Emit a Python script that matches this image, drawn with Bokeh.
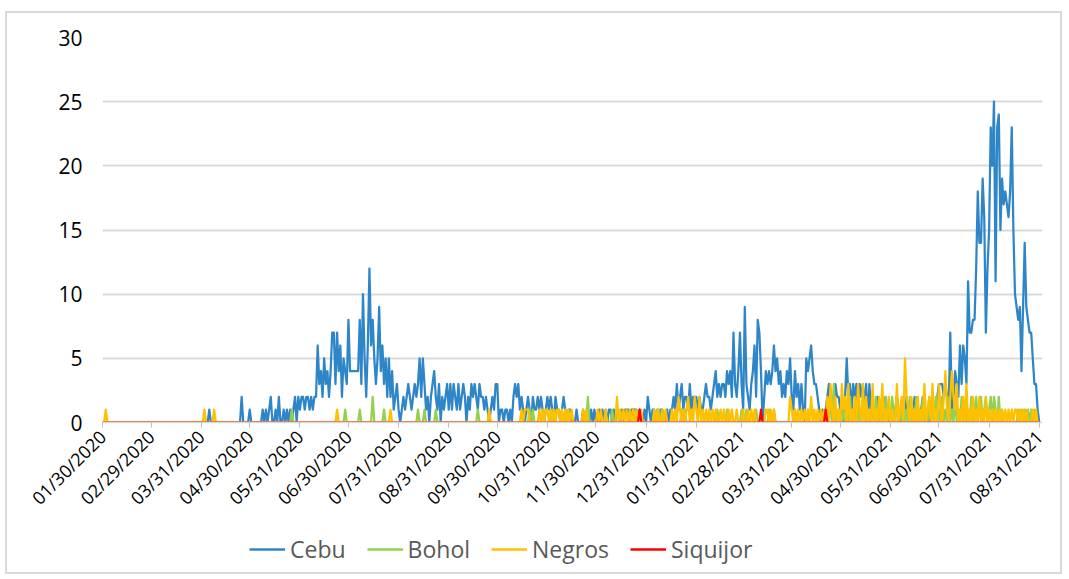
import math
import pandas as pd
from bokeh.plotting import figure
from bokeh.layouts import column
from bokeh.models import Range1d, FixedTicker, Legend, LegendItem, ColumnDataSource
from bokeh.embed import file_html
from bokeh.resources import INLINE

START = "2020-01-30"

# Daily values, one per day from 01/30/2020 (index 0) to 08/31/2021 (index 579)
cebu = [
    0, 0, 0, 0, 0, 0, 0, 0, 0, 0,   # 0
    0, 0, 0, 0, 0, 0, 0, 0, 0, 0,   # 10
    0, 0, 0, 0, 0, 0, 0, 0, 0, 0,   # 20
    0, 0, 0, 0, 0, 0, 0, 0, 0, 0,   # 30
    0, 0, 0, 0, 0, 0, 0, 0, 0, 0,   # 40
    0, 0, 0, 0, 0, 0, 0, 0, 0, 0,   # 50
    0, 0, 0, 0, 0, 0, 1, 0, 0, 0,   # 60
    0, 0, 0, 0, 0, 0, 0, 0, 0, 0,   # 70
    0, 0, 0, 0, 0, 0, 2, 0, 0, 0,   # 80
    0, 1, 0, 0, 0, 0, 0, 0, 0, 1,   # 90
    0, 1, 0, 1, 2, 0, 0, 1, 0, 2,   # 100
    0, 0, 1, 0, 1, 0, 1, 0, 1, 2,   # 110
    0, 2, 1, 2, 2, 1, 2, 2, 1, 2,   # 120
    1, 2, 2, 6, 3, 4, 2, 5, 3, 4,   # 130
    2, 4, 7, 7, 3, 7, 4, 6, 2, 5,   # 140
    4, 3, 8, 4, 4, 4, 4, 4, 4, 8,   # 150
    3, 10, 5, 2, 6, 12, 6, 8, 5, 3,  # 160
    5, 9, 4, 6, 3, 5, 2, 5, 2, 4,   # 170
    1, 2, 3, 1, 0, 1, 2, 1, 2, 3,   # 180
    2, 1, 2, 3, 2, 3, 5, 2, 5, 3,   # 190
    1, 2, 0, 2, 3, 4, 2, 1, 3, 0,   # 200
    2, 1, 2, 3, 1, 3, 1, 3, 2, 1,   # 210
    3, 1, 2, 3, 2, 0, 2, 1, 3, 2,   # 220
    3, 2, 1, 3, 2, 2, 1, 2, 1, 0,   # 230
    1, 2, 1, 3, 3, 0, 1, 1, 0, 1,   # 240
    1, 0, 1, 0, 2, 3, 2, 3, 1, 2,   # 250
    1, 0, 1, 2, 1, 0, 2, 1, 1, 2,   # 260
    1, 2, 1, 0, 1, 2, 1, 2, 1, 0,   # 270
    2, 1, 1, 0, 1, 2, 1, 0, 1, 1,   # 280
    0, 0, 0, 1, 0, 0, 0, 1, 0, 0,   # 290
    0, 0, 1, 0, 1, 0, 0, 1, 0, 1,   # 300
    0, 1, 0, 1, 1, 0, 1, 0, 1, 1,   # 310
    0, 1, 0, 1, 1, 1, 0, 1, 1, 1,   # 320
    1, 0, 1, 0, 0, 1, 0, 2, 1, 0,   # 330
    1, 1, 0, 1, 0, 1, 1, 0, 0, 1,   # 340
    0, 1, 1, 2, 1, 3, 1, 2, 3, 1,   # 350
    2, 2, 1, 3, 1, 2, 2, 2, 1, 2,   # 360
    1, 1, 2, 3, 2, 2, 1, 2, 3, 4,   # 370
    2, 3, 2, 3, 3, 2, 4, 3, 4, 2,   # 380
    7, 3, 2, 4, 7, 3, 1, 9, 3, 2,   # 390
    1, 3, 4, 6, 2, 8, 7, 4, 0, 2,   # 400
    4, 3, 4, 3, 4, 6, 4, 5, 3, 4,   # 410
    2, 3, 2, 4, 3, 5, 2, 1, 4, 2,   # 420
    3, 1, 3, 1, 0, 5, 4, 5, 6, 4,   # 430
    3, 3, 2, 1, 0, 1, 0, 1, 2, 3,   # 440
    1, 2, 1, 3, 2, 2, 1, 1, 0, 2,   # 450
    5, 2, 3, 1, 3, 2, 3, 1, 3, 2,   # 460
    3, 1, 3, 0, 3, 1, 1, 0, 1, 2,   # 470
    1, 0, 1, 1, 2, 1, 0, 1, 1, 0,   # 480
    1, 2, 1, 0, 1, 1, 0, 2, 1, 1,   # 490
    0, 1, 2, 1, 0, 1, 1, 2, 0, 1,   # 500
    1, 0, 1, 2, 1, 1, 2, 3, 3, 3,   # 510
    2, 3, 2, 1, 7, 1, 2, 4, 3, 2,   # 520
    6, 3, 6, 5, 3, 11, 7, 7, 8, 8,  # 530
    12, 18, 14, 14, 19, 16, 7, 12, 15, 23,  # 540
    20, 25, 11, 23, 24, 15, 19, 17, 18, 17,  # 550
    16, 18, 23, 15, 10, 9, 8, 9, 4, 9,  # 560
    14, 9, 8, 7, 7, 5, 3, 3, 1, 0,  # 570
]

# Non-zero days (day index: value); all other days are 0
bohol_nonzero = {
    117: 1, 150: 1, 159: 1, 167: 2, 174: 1, 195: 1, 199: 1, 206: 1, 232: 1,
    264: 1, 266: 1, 278: 1, 300: 2, 315: 1, 328: 1, 344: 1, 358: 1, 360: 1,
    380: 1, 386: 1, 395: 1, 398: 1, 404: 1, 412: 1, 415: 1, 428: 1, 436: 1,
    448: 1, 450: 2, 452: 3, 455: 1, 458: 1, 462: 2, 465: 1, 467: 1, 470: 2,
    473: 1, 476: 1, 478: 2, 480: 1, 482: 1, 484: 2, 486: 1, 488: 2, 489: 1,
    491: 2, 493: 1, 495: 2, 497: 1, 499: 2, 501: 1, 503: 2, 505: 1, 507: 2,
    509: 1, 511: 2, 513: 1, 515: 2, 517: 1, 519: 2, 521: 1, 523: 2, 525: 1,
    527: 2, 529: 1, 531: 2, 533: 1, 535: 1, 537: 2, 539: 1, 540: 2, 542: 1,
    543: 2, 545: 1, 546: 2, 548: 1, 549: 2, 551: 2, 552: 1, 554: 2, 556: 1,
    566: 1, 568: 1, 570: 1, 572: 1, 574: 1, 576: 1,
}

negros_nonzero = {
    2: 1, 63: 1, 69: 1, 145: 1, 178: 1, 239: 1, 259: 1, 261: 1, 262: 1,
    263: 1, 270: 1, 272: 1, 274: 1, 275: 1, 277: 1, 279: 1, 281: 1, 282: 1,
    284: 1, 286: 1, 288: 1, 290: 1, 297: 1, 299: 1, 306: 1, 308: 1, 311: 1,
    318: 2, 320: 1, 322: 1, 324: 1, 326: 1, 328: 1, 330: 1, 333: 1, 341: 1,
    343: 1, 346: 1, 348: 1, 352: 1, 354: 1, 356: 2, 357: 1, 359: 1, 361: 1,
    362: 2, 364: 1, 366: 2, 367: 1, 369: 2, 371: 1, 373: 1, 375: 1, 377: 1,
    379: 1, 382: 1, 384: 1, 387: 1, 389: 1, 392: 1, 396: 1, 399: 1, 401: 1,
    403: 1, 410: 1, 411: 1, 413: 1, 415: 1, 425: 2, 426: 1, 428: 1, 430: 1,
    432: 1, 434: 1, 436: 1, 438: 2, 440: 1, 442: 1, 444: 1, 446: 1, 448: 2,
    450: 3, 451: 1, 453: 2, 455: 1, 457: 3, 458: 1, 459: 2, 461: 3, 463: 1,
    465: 2, 467: 3, 468: 1, 470: 3, 472: 2, 474: 1, 476: 3, 478: 1, 480: 2,
    482: 3, 484: 1, 486: 2, 488: 1, 491: 3, 493: 1, 494: 2, 496: 5, 497: 2,
    498: 1, 500: 2, 502: 1, 504: 2, 506: 1, 508: 3, 510: 1, 511: 2, 513: 3,
    515: 1, 517: 3, 518: 1, 520: 2, 521: 4, 522: 1, 524: 2, 525: 4, 526: 2,
    527: 1, 528: 3, 530: 1, 532: 2, 534: 3, 536: 1, 538: 2, 540: 1, 542: 2,
    544: 1, 546: 2, 548: 1, 550: 1, 552: 1, 554: 1, 556: 1, 558: 1, 560: 1,
    562: 1, 564: 1, 565: 1, 567: 1, 569: 1, 571: 1, 575: 1, 577: 1,
}

siquijor_nonzero = {332: 1, 407: 1, 447: 1}

tick_labels = [
    "01/30/2020", "02/29/2020", "03/31/2020", "04/30/2020", "05/31/2020",
    "06/30/2020", "07/31/2020", "08/31/2020", "09/30/2020", "10/31/2020",
    "11/30/2020", "12/31/2020", "01/31/2021", "02/28/2021", "03/31/2021",
    "04/30/2021", "05/31/2021", "06/30/2021", "07/31/2021", "08/31/2021",
]

series_names = ["Cebu", "Bohol", "Negros", "Siquijor"]
series_colors = ["#2E86C8", "#92D050", "#FFC000", "#FF0000"]

days = list(range(len(cebu)))


def expand(sparse):
    return [sparse.get(i, 0) for i in days]


data = {
    "day": days,
    "Cebu": cebu,
    "Bohol": expand(bohol_nonzero),
    "Negros": expand(negros_nonzero),
    "Siquijor": expand(siquijor_nonzero),
}
source = ColumnDataSource(data)

start = pd.Timestamp(START)
tick_pos = [(pd.to_datetime(t, format="%m/%d/%Y") - start).days for t in tick_labels]

FONT = "Open Sans"

# ---- main chart ----
p = figure(
    width=1053, height=514,
    x_range=Range1d(0, 581), y_range=Range1d(0, 30),
    output_backend="svg", toolbar_location=None,
    min_border_left=95, min_border_right=18, min_border_top=24, min_border_bottom=105,
)
p.outline_line_color = None
p.background_fill_color = "white"
p.border_fill_color = "white"

p.xgrid.grid_line_color = None
p.ygrid.grid_line_color = "#D9D9D9"
p.ygrid.grid_line_width = 2

p.yaxis.ticker = FixedTicker(ticks=[0, 5, 10, 15, 20, 25, 30])
p.yaxis.axis_line_color = None
p.yaxis.major_tick_line_color = None
p.yaxis.minor_tick_line_color = None
p.yaxis.major_tick_out = 0
p.yaxis.major_tick_in = 0
p.yaxis.major_label_standoff = 20
p.yaxis.major_label_text_font = FONT
p.yaxis.major_label_text_font_size = "21px"
p.yaxis.major_label_text_color = "#000000"

p.xaxis.ticker = FixedTicker(ticks=tick_pos)
p.xaxis.major_label_overrides = {pos: lab for pos, lab in zip(tick_pos, tick_labels)}
p.xaxis.major_label_orientation = math.pi / 4
p.xaxis.axis_line_color = "#D9D9D9"
p.xaxis.axis_line_width = 1.5
p.xaxis.major_tick_line_color = "#BFBFBF"
p.xaxis.major_tick_out = 5
p.xaxis.major_tick_in = 0
p.xaxis.minor_tick_line_color = None
p.xaxis.major_label_standoff = 6
p.xaxis.major_label_text_font = FONT
p.xaxis.major_label_text_font_size = "18px"
p.xaxis.major_label_text_color = "#000000"

for name, color in zip(series_names, series_colors):
    p.line("day", name, source=source, line_color=color, line_width=2.25, line_join="round")

# ---- legend strip below the chart (frame is aligned with the main chart's frame) ----
lf = figure(
    width=1053, height=45,
    x_range=Range1d(0, 1), y_range=Range1d(0, 1),
    output_backend="svg", toolbar_location=None,
    x_axis_location=None, y_axis_location=None, min_border=0,
)
lf.outline_line_color = None
lf.xgrid.visible = False
lf.ygrid.visible = False
lf.background_fill_color = "white"
lf.border_fill_color = "white"

legend_src = ColumnDataSource({"x": [5, 6], "y": [5, 6]})  # outside the view: only the key swatch shows
legend_renderers = []
for name, color in zip(series_names, series_colors):
    r = lf.line("x", "y", source=legend_src, line_color=color, line_width=2.5)
    legend_renderers.append(r)

legend = Legend(
    items=[LegendItem(label=n, renderers=[r]) for n, r in zip(series_names, legend_renderers)],
    orientation="horizontal",
    location=(147, 7),
    label_text_font=FONT,
    label_text_font_size="23px",
    label_text_color="#595959",
    glyph_width=36,
    glyph_height=24,
    label_standoff=5,
    spacing=21,
    padding=0,
    margin=0,
    border_line_color=None,
    background_fill_alpha=0,
)
lf.add_layout(legend, "center")

layout = column(p, lf, spacing=0)
layout.margin = (11, 0, 0, 5)
layout.styles = {"border": "2px solid #D9D9D9"}

open("out.html", "w").write(file_html(layout, INLINE))
